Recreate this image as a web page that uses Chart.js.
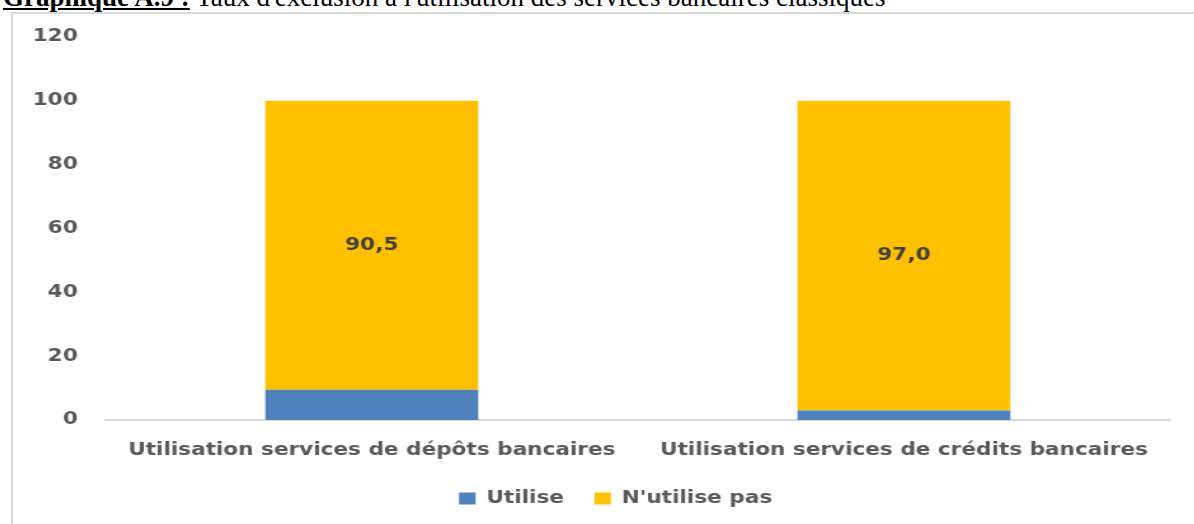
<!DOCTYPE html>
<html>
<head>
<meta charset="utf-8">
<script src="https://cdn.jsdelivr.net/npm/chart.js@4/dist/chart.umd.min.js"></script>
<style>
  html, body { margin:0; padding:0; background:#fff; width:1194px; height:524px; overflow:hidden; }
  #title { position:absolute; left:3px; top:-18px; font-family:"Liberation Serif","Times New Roman",serif; font-size:27px; white-space:nowrap; color:#000; line-height:30px; }
  #title b { text-decoration:underline; }
  #frame { position:absolute; left:11px; top:12px; width:1200px; height:520px; border-left:2px solid #d9d9d9; border-top:2px solid #d9d9d9; }
  #wrap { position:absolute; left:13px; top:14px; width:948px; height:503px; transform:scaleX(1.27); transform-origin:0 0; }
  #c { width:948px; height:503px; display:block; }
</style>
</head>
<body>
<div id="title"><b>Graphique A.9 :</b> Taux d'exclusion à l'utilisation des services bancaires classiques</div>
<div id="frame"></div>
<div id="wrap"><canvas id="c" width="948" height="503"></canvas></div>
<script>
const categories = ["Utilisation services de dépôts bancaires", "Utilisation services de crédits bancaires"];
const utilise = [9.5, 3.0];
const nUtilisePas = [90.5, 97.0];
const seriesNames = ["Utilise", "N'utilise pas"];
const yTicks = [0, 20, 40, 60, 80, 100, 120];

const FONT = '"DejaVu Sans", sans-serif';

const labelPlugin = {
  id: 'segLabels',
  afterDatasetsDraw(chart) {
    const ctx = chart.ctx;
    const meta = chart.getDatasetMeta(1);
    ctx.save();
    ctx.font = 'bold 17px ' + FONT;
    ctx.fillStyle = '#404040';
    ctx.textAlign = 'center';
    ctx.textBaseline = 'middle';
    meta.data.forEach((bar, i) => {
      const p = bar.getProps(['x','y','base'], true);
      ctx.fillText(nUtilisePas[i].toFixed(1).replace('.', ','), p.x, (p.y + p.base) / 2);
    });
    ctx.restore();
  }
};

const legendShift = {
  id: 'legendShift',
  afterLayout(chart) {
    const lg = chart.legend;
    if (lg) { lg.left += 19; lg.right += 19; }
  }
};

new Chart(document.getElementById('c'), {
  type: 'bar',
  data: {
    labels: categories,
    datasets: [
      { label: seriesNames[0], data: utilise, backgroundColor: '#4F81BD', borderColor: '#4F81BD', borderWidth: 0 },
      { label: seriesNames[1], data: nUtilisePas, backgroundColor: '#FFC000', borderColor: '#FFC000', borderWidth: 0 }
    ]
  },
  options: {
    responsive: false,
    maintainAspectRatio: false,
    animation: false,
    layout: { padding: { left: 0, right: 37, top: 23, bottom: 0 } },
    datasets: { bar: { categoryPercentage: 1.0, barPercentage: 0.4 } },
    plugins: {
      legend: {
        position: 'bottom',
        labels: {
          boxWidth: 13, boxHeight: 12, padding: 24,
          color: '#595959',
          font: { family: FONT, size: 17, weight: 'bold' }
        }
      },
      tooltip: { enabled: false }
    },
    scales: {
      x: {
        stacked: true,
        afterFit(axis) { axis.height = 46; },
        grid: { display: false, drawTicks: false },
        border: { display: true, color: '#d9d9d9', width: 2 },
        ticks: {
          color: '#595959', padding: 20,
          font: { family: FONT, size: 17, weight: 'bold' },
          maxRotation: 0
        }
      },
      y: {
        stacked: true,
        min: 0, max: 120,
        afterBuildTicks(axis) { axis.ticks = yTicks.map(v => ({ value: v })); },
        afterFit(axis) { axis.width = 73; axis.paddingTop = 0; axis.paddingBottom = 0; },
        grid: { display: false, drawTicks: false },
        border: { display: false },
        ticks: {
          color: '#595959', padding: 22,
          font: { family: FONT, size: 17, weight: 'bold' }
        }
      }
    }
  },
  plugins: [labelPlugin, legendShift]
});
</script>
</body>
</html>
